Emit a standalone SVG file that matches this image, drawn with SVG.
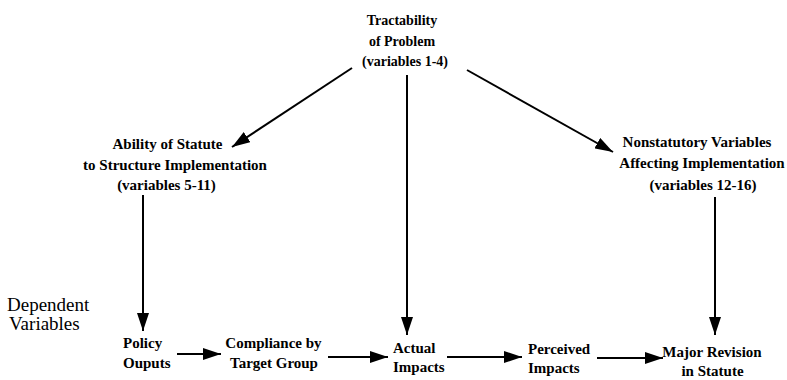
<svg xmlns="http://www.w3.org/2000/svg" width="787" height="380" viewBox="0 0 787 380">
<defs>
<style>
.t{font-family:"Liberation Serif","Times New Roman",serif;font-weight:bold;font-size:15px;fill:#000;}
.s{font-size:14px;}
.c{text-anchor:middle;}
.dv{font-family:"Liberation Serif","Times New Roman",serif;font-size:19px;fill:#000;}
.ln{stroke:#000;stroke-width:2;fill:none;marker-end:url(#ah);}
</style>
<marker id="ah" markerUnits="userSpaceOnUse" markerWidth="19" markerHeight="12" refX="18" refY="6" orient="auto">
<path d="M0,0 L18,6 L0,12 Z" fill="#000"/>
</marker>
</defs>
<rect width="787" height="380" fill="#fff"/>
<g id="connectors">
<line class="ln" x1="352" y1="68" x2="232" y2="147"/>
<line class="ln" x1="407" y1="75" x2="407" y2="335"/>
<line class="ln" x1="467" y1="70" x2="613" y2="152"/>
<line class="ln" x1="143" y1="195" x2="143" y2="331"/>
<line class="ln" x1="715" y1="197" x2="715" y2="335"/>
<line class="ln" x1="177" y1="354" x2="221" y2="354"/>
<line class="ln" x1="328" y1="357" x2="388" y2="357"/>
<line class="ln" x1="447" y1="357" x2="522" y2="357"/>
<line class="ln" x1="597" y1="358" x2="663" y2="358"/>
</g>
<g id="tractability">
<text class="t s c" x="402" y="25">Tractability</text>
<text class="t s c" x="402" y="46">of Problem</text>
<text class="t s c" x="405" y="66">(variables 1-4)</text>
</g>
<g id="ability">
<text class="t c" x="167.5" y="149">Ability of Statute</text>
<text class="t c" x="175" y="170">to Structure Implementation</text>
<text class="t c" x="166.5" y="190">(variables 5-11)</text>
</g>
<g id="nonstatutory">
<text class="t c" x="697" y="147">Nonstatutory Variables</text>
<text class="t c" x="702" y="168">Affecting Implementation</text>
<text class="t c" x="703" y="190">(variables 12-16)</text>
</g>
<g id="dependent-label">
<text class="dv" x="7" y="311">Dependent</text>
<text class="dv" x="9" y="330">Variables</text>
</g>
<g id="policy-outputs">
<text class="t" x="123" y="348">Policy</text>
<text class="t" x="123" y="368">Ouputs</text>
</g>
<g id="compliance">
<text class="t c" x="273.5" y="348">Compliance by</text>
<text class="t c" x="274" y="368">Target Group</text>
</g>
<g id="actual-impacts">
<text class="t" x="393" y="353">Actual</text>
<text class="t" x="393" y="372">Impacts</text>
</g>
<g id="perceived-impacts">
<text class="t" x="528" y="354">Perceived</text>
<text class="t" x="528" y="373">Impacts</text>
</g>
<g id="major-revision">
<text class="t c" x="712" y="357">Major Revision</text>
<text class="t c" x="712.5" y="376">in Statute</text>
</g>
</svg>
